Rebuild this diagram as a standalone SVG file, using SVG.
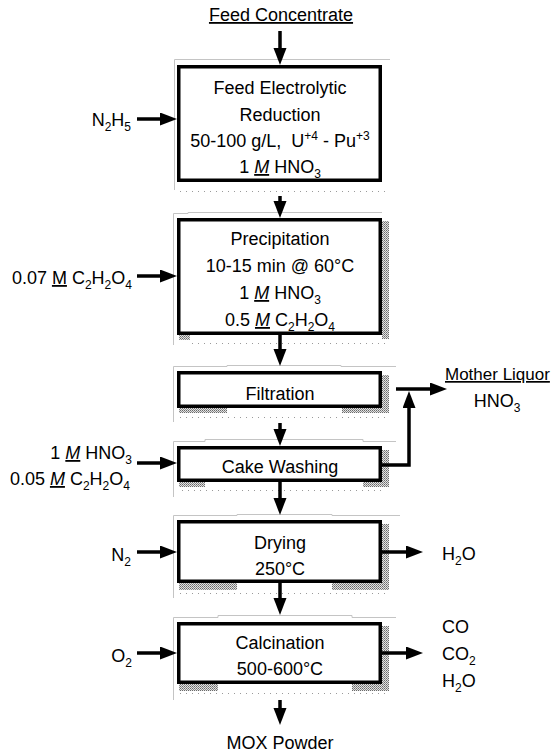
<svg xmlns="http://www.w3.org/2000/svg" width="553" height="755" viewBox="0 0 553 755">
<style>
text{font-family:"Liberation Sans",Arial,sans-serif;font-size:18px;fill:#000}
.c{text-anchor:middle}
.e{text-anchor:end}
.sub,.sup{font-size:12px}
.mi{font-style:italic;text-decoration:underline}
.mu{text-decoration:underline}
.box{fill:#fff;stroke:#000;stroke-width:3.5}
.frame{fill:none;stroke:#c4c4c4;stroke-width:1}
.dots{fill:none;stroke:#9a9a9a;stroke-width:1;stroke-dasharray:1 5}
.sh{fill:url(#stip)}
.ar{fill:none;stroke:#000;stroke-width:3.5;marker-end:url(#ah)}
</style>
<defs>
<pattern id="stip" width="2" height="2" patternUnits="userSpaceOnUse">
<rect width="2" height="2" fill="#e2e2e2"/>
<rect width="1" height="1" fill="#6a6a6a"/>
<rect x="1" y="1" width="1" height="1" fill="#8c8c8c"/>
</pattern>
<marker id="ah" markerUnits="userSpaceOnUse" markerWidth="18" markerHeight="14" refX="9" refY="6.5" orient="auto">
<path d="M0,0 L17,6.5 L0,13 z" fill="#000"/>
</marker>
</defs>

<g id="feed-concentrate">
<text class="c mu" x="281" y="21">Feed Concentrate</text>
</g>

<g id="reduction">
<path class="frame" d="M174.5,190 V59.5 H390"/>
<path class="dots" d="M180,191.5 H387"/>
<rect class="box" x="178.75" y="66.75" width="201.5" height="113.5"/>
<text class="c" x="280" y="94">Feed Electrolytic</text>
<text class="c" x="280" y="121">Reduction</text>
<text class="c" x="280" y="147">50-100 g/L,&#160; U<tspan class="sup" dy="-7">+4</tspan><tspan dy="7"> - Pu</tspan><tspan class="sup" dy="-7">+3</tspan></text>
<text class="c" x="280" y="173">1 <tspan class="mi">M</tspan> HNO<tspan class="sub" dy="5">3</tspan></text>
</g>

<g id="precipitation">
<path class="frame" d="M173.5,345 V213.5 H188 V212.5 H382"/>
<path class="dots" d="M192,343.5 H386"/>
<rect class="sh" x="382" y="221" width="7" height="118"/>
<rect class="sh" x="179" y="335" width="11" height="5"/>
<rect class="box" x="178.75" y="219.75" width="201.5" height="113.5"/>
<text class="c" x="280" y="245">Precipitation</text>
<text class="c" x="280" y="272">10-15 min @ 60°C</text>
<text class="c" x="280" y="299">1 <tspan class="mi">M</tspan> HNO<tspan class="sub" dy="5">3</tspan></text>
<text class="c" x="280" y="326">0.5 <tspan class="mi">M</tspan> C<tspan class="sub" dy="5">2</tspan><tspan dy="-5">H</tspan><tspan class="sub" dy="5">2</tspan><tspan dy="-5">O</tspan><tspan class="sub" dy="5">4</tspan></text>
</g>

<g id="filtration">
<path class="frame" d="M173.5,422 V366.5 H227 V365.5 H341 V366.5 H396"/>
<path class="dots" d="M180,417.5 H386"/>
<rect class="sh" x="382" y="375" width="7" height="38"/>
<rect class="sh" x="179" y="408" width="48" height="5"/>
<rect class="sh" x="342" y="408" width="42" height="5"/>
<rect class="box" x="178.75" y="372.75" width="201.5" height="33.5"/>
<text class="c" x="280" y="400">Filtration</text>
</g>

<g id="cake-washing">
<path class="frame" d="M173.5,497 V441.5 H205 V439.5 H363 V441.5 H396"/>
<path class="dots" d="M182,490.5 H386"/>
<rect class="sh" x="382" y="450" width="7" height="37"/>
<rect class="sh" x="179" y="482" width="26" height="5"/>
<rect class="sh" x="363" y="482" width="21" height="5"/>
<rect class="box" x="178.75" y="447.75" width="201.5" height="32.5"/>
<text class="c" x="280" y="473">Cake Washing</text>
</g>

<g id="drying">
<path class="frame" d="M173.5,598 V515.5 H237 V514.5 H332 V515.5 H400"/>
<path class="dots" d="M180,593.5 H386"/>
<rect class="sh" x="382" y="524" width="7" height="66"/>
<rect class="sh" x="179" y="583" width="58" height="7"/>
<rect class="sh" x="332" y="583" width="52" height="7"/>
<rect class="box" x="178.75" y="521.75" width="201.5" height="59.5"/>
<text class="c" x="280" y="549">Drying</text>
<text class="c" x="280" y="575">250°C</text>
</g>

<g id="calcination">
<path class="frame" d="M173.5,700 V617.5 H218 V615.5 H352 V617.5 H396"/>
<path class="dots" d="M180,693.5 H386"/>
<rect class="sh" x="382" y="626" width="7" height="65"/>
<rect class="sh" x="179" y="684" width="39" height="7"/>
<rect class="sh" x="352" y="684" width="32" height="7"/>
<rect class="box" x="178.75" y="623.75" width="201.5" height="58.5"/>
<text class="c" x="280" y="649">Calcination</text>
<text class="c" x="280" y="675">500-600°C</text>
</g>

<g id="in-n2h5">
<text class="e" x="131" y="126">N<tspan class="sub" dy="5">2</tspan><tspan dy="-5">H</tspan><tspan class="sub" dy="5">5</tspan></text>
</g>
<g id="in-oxalic">
<text class="e" x="132" y="284">0.07 <tspan class="mu">M</tspan> C<tspan class="sub" dy="5">2</tspan><tspan dy="-5">H</tspan><tspan class="sub" dy="5">2</tspan><tspan dy="-5">O</tspan><tspan class="sub" dy="5">4</tspan></text>
</g>
<g id="in-wash">
<text class="e" x="132" y="459">1 <tspan class="mi">M</tspan> HNO<tspan class="sub" dy="5">3</tspan></text>
<text class="e" x="130" y="485">0.05 <tspan class="mi">M</tspan> C<tspan class="sub" dy="5">2</tspan><tspan dy="-5">H</tspan><tspan class="sub" dy="5">2</tspan><tspan dy="-5">O</tspan><tspan class="sub" dy="5">4</tspan></text>
</g>
<g id="in-n2">
<text class="e" x="131" y="561">N<tspan class="sub" dy="5">2</tspan></text>
</g>
<g id="in-o2">
<text class="e" x="132" y="662">O<tspan class="sub" dy="5">2</tspan></text>
</g>
<g id="out-mother-liquor">
<text class="mu" x="445" y="380" style="font-size:17px">Mother Liquor</text>
<text class="c" x="497" y="407">HNO<tspan class="sub" dy="5">3</tspan></text>
</g>
<g id="out-drying">
<text x="442" y="560">H<tspan class="sub" dy="5">2</tspan><tspan dy="-5">O</tspan></text>
</g>
<g id="out-calcination">
<text x="442" y="633">CO</text>
<text x="442" y="660">CO<tspan class="sub" dy="5">2</tspan></text>
<text x="442" y="687">H<tspan class="sub" dy="5">2</tspan><tspan dy="-5">O</tspan></text>
</g>
<g id="mox-powder">
<text class="c" x="280" y="749">MOX Powder</text>
</g>

<g id="connectors">
<path class="ar" d="M280,31 V57"/>
<path class="ar" d="M280,196 V210"/>
<path class="ar" d="M280,335 V358"/>
<path class="ar" d="M280,423 V438"/>
<path class="ar" d="M280,482 V507"/>
<path class="ar" d="M280,583 V607"/>
<path class="ar" d="M280,700 V717"/>
<path class="ar" d="M137,119 H169"/>
<path class="ar" d="M137,276 H169"/>
<path class="ar" d="M137,463 H169"/>
<path class="ar" d="M137,552 H169"/>
<path class="ar" d="M137,653 H169"/>
<path class="ar" d="M382,552 H415"/>
<path class="ar" d="M382,653 H415"/>
<path class="ar" d="M396,389 H439"/>
<path class="ar" d="M382,465 H409 V399"/>
</g>
</svg>
